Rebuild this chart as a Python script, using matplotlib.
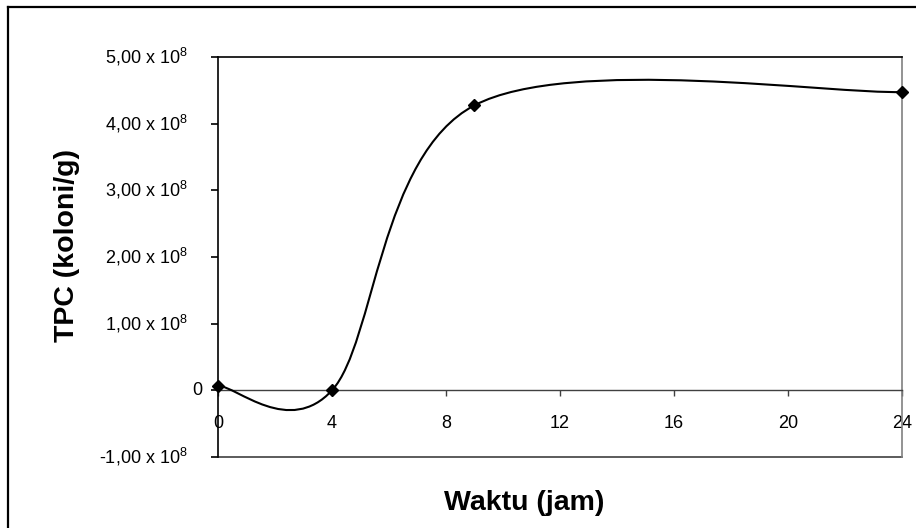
import matplotlib
matplotlib.use("Agg")
import matplotlib.pyplot as plt
from matplotlib.path import Path
from matplotlib.patches import PathPatch
from matplotlib.lines import Line2D
import matplotlib.transforms as mtransforms

plt.rcParams['font.family'] = ['Liberation Sans', 'DejaVu Sans']
plt.rcParams['mathtext.fontset'] = 'custom'
plt.rcParams['mathtext.rm'] = 'Liberation Sans'
plt.rcParams['mathtext.default'] = 'regular'

# Data (TPC in units of 10^8 koloni/g)
hours = [0, 4, 9, 24]
tpc = [0.07e8, 0.0, 4.275e8, 4.475e8]

xticks = [0, 4, 8, 12, 16, 20, 24]
yticks = [-1e8, 0, 1e8, 2e8, 3e8, 4e8, 5e8]
ylabels = ['-1,00 x 10$^{8}$', '0', '1,00 x 10$^{8}$', '2,00 x 10$^{8}$',
           '3,00 x 10$^{8}$', '4,00 x 10$^{8}$', '5,00 x 10$^{8}$']

W, H = 916, 528
fig = plt.figure(figsize=(W / 100, H / 100), dpi=100)
ax = fig.add_axes([218 / W, 1 - 457 / H, (902 - 218) / W, (457 - 57) / H])

# smoothed line like a spreadsheet "smoothed line" (cubic bezier through the points)
pts = list(zip(hours, tpc))
verts = [pts[0]]
codes = [Path.MOVETO]
n = len(pts)
for i in range(n - 1):
  p0 = pts[max(i - 1, 0)]
  p1 = pts[i]
  p2 = pts[i + 1]
  p3 = pts[min(i + 2, n - 1)]
  c1 = (p1[0] + (p2[0] - p0[0]) / 6, p1[1] + (p2[1] - p0[1]) / 6)
  c2 = (p2[0] - (p3[0] - p1[0]) / 6, p2[1] - (p3[1] - p1[1]) / 6)
  verts += [c1, c2, p2]
  codes += [Path.CURVE4] * 3
ax.add_patch(PathPatch(Path(verts, codes), fill=False, edgecolor='black', lw=1.5, zorder=3))
ax.plot(hours, tpc, linestyle='none', marker='D', markersize=6.5, color='black',
        clip_on=False, zorder=4)

ax.set_xlim(0, 24)
ax.set_ylim(-1e8, 5e8)

ax.spines['left'].set_color('black')
ax.spines['left'].set_linewidth(1.2)
ax.spines['top'].set_color('black')
ax.spines['top'].set_linewidth(1.2)
ax.spines['right'].set_color('#808080')
ax.spines['right'].set_linewidth(1.2)
ax.spines['bottom'].set_position(('data', 0))
ax.spines['bottom'].set_color('#404040')
ax.spines['bottom'].set_linewidth(1.0)
ax.axhline(-1e8, color='#404040', lw=1.2, clip_on=False, zorder=2)

ax.set_xticks(xticks)
ax.set_xticklabels([str(t) for t in xticks], fontsize=13)
ax.tick_params(axis='x', direction='out', length=4, width=1, color='#404040', pad=14)

ax.set_yticks(yticks)
ax.set_yticklabels([])
ax.tick_params(axis='y', direction='out', length=5, width=1.2, color='black')

# y tick labels: the plain "0" sits closer to the axis than the others
trans = mtransforms.blended_transform_factory(ax.transAxes, ax.transData)
for val, lab in zip(yticks, ylabels):
  off = 16 if lab == '0' else 30
  t = ax.text(0, val, lab, transform=trans + mtransforms.ScaledTranslation(-off / 100, 0, fig.dpi_scale_trans),
              ha='right', va='center', fontsize=13)

fig.text(67 / W, 1 - 245 / H, 'TPC (koloni/g)', rotation=90, ha='center', va='center',
         fontsize=20.5, fontweight='bold')
fig.text(524 / W, 1 - 510 / H, 'Waktu (jam)', ha='center', va='baseline',
         fontsize=20.5, fontweight='bold')

# outer chart frame (only top and left edges inside the picture)
fig.add_artist(Line2D([8 / W, 1.0], [1 - 7 / H, 1 - 7 / H], color='black', lw=1.6))
fig.add_artist(Line2D([8 / W, 8 / W], [0.0, 1 - 7 / H], color='black', lw=1.6))

fig.savefig('out.png', dpi=100, facecolor='white')
